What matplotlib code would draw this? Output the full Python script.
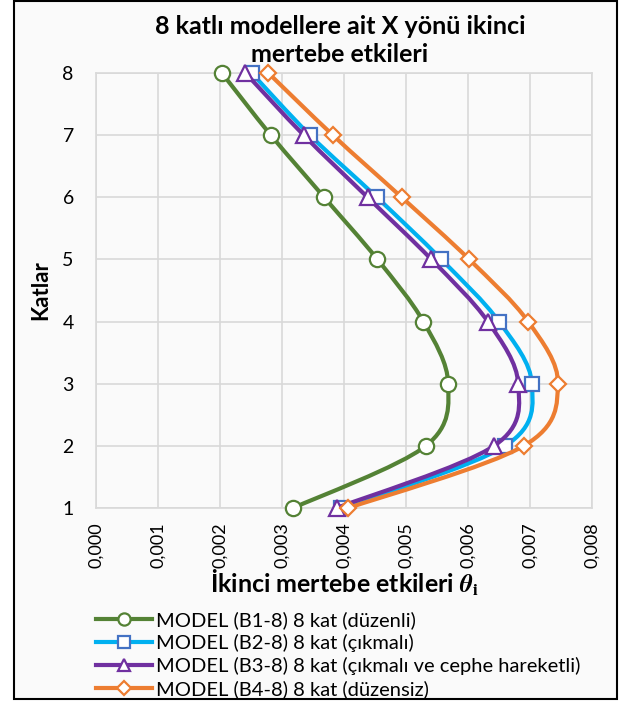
import matplotlib
matplotlib.use('Agg')
import matplotlib.pyplot as plt
from matplotlib.path import Path
from matplotlib.patches import PathPatch, Rectangle
from matplotlib.lines import Line2D

plt.rcParams['font.family'] = ['Lato', 'DejaVu Sans']
plt.rcParams['mathtext.fontset'] = 'stix'

# data
katlar = [1, 2, 3, 4, 5, 6, 7, 8]
b1 = [0.00318, 0.00532, 0.00568, 0.00528, 0.00454, 0.00368, 0.00282, 0.00203]
b2 = [0.00395, 0.00660, 0.00703, 0.00650, 0.00557, 0.00453, 0.00345, 0.00251]
b3 = [0.00388, 0.00642, 0.00681, 0.00632, 0.00541, 0.00438, 0.00335, 0.00241]
b4 = [0.00407, 0.00690, 0.00745, 0.00697, 0.00602, 0.00493, 0.00382, 0.00278]

labels = ['MODEL (B1-8) 8 kat (düzenli)',
          'MODEL (B2-8) 8 kat (çıkmalı)',
          'MODEL (B3-8) 8 kat (çıkmalı ve cephe hareketli)',
          'MODEL (B4-8) 8 kat (düzensiz)']
line_colors = ['#548235', '#00B0F0', '#7030A0', '#ED7D31']
edge_colors = ['#548235', '#4472C4', '#7030A0', '#ED7D31']
markers = ['o', 's', '^', 'D']
msizes = [11, 10, 11, 8.5]


def smooth_path(xs, ys):
    # Excel style smoothed line: cubic bezier through the points
    pts = list(zip(xs, ys))
    n = len(pts)
    verts = [pts[0]]
    codes = [Path.MOVETO]
    for i in range(n - 1):
        p0 = pts[max(i - 1, 0)]
        p1 = pts[i]
        p2 = pts[i + 1]
        p3 = pts[min(i + 2, n - 1)]
        c1 = (p1[0] + (p2[0] - p0[0]) / 6, p1[1] + (p2[1] - p0[1]) / 6)
        c2 = (p2[0] - (p3[0] - p1[0]) / 6, p2[1] - (p3[1] - p1[1]) / 6)
        verts += [c1, c2, p2]
        codes += [Path.CURVE4] * 3
    return Path(verts, codes)


fig = plt.figure(figsize=(6.2, 7.02), dpi=100)
fig.patch.set_facecolor('white')
fig.patches.append(Rectangle((14 / 620, 1 - 699 / 702), 603 / 620, 698 / 702,
                             transform=fig.transFigure, facecolor='#fafafa',
                             edgecolor='black', linewidth=1.5, zorder=-5))

ax = fig.add_axes([96 / 620, 1 - 508 / 702, 496 / 620, 435 / 702])
ax.set_facecolor('#fafafa')

for i, vals in enumerate([b1, b2, b3, b4]):
    patch = PathPatch(smooth_path(vals, katlar), facecolor='none',
                      edgecolor=line_colors[i], linewidth=3.0,
                      capstyle='round', joinstyle='round', zorder=3 + 2 * i)
    ax.add_patch(patch)
    ax.plot(vals, katlar, linestyle='none', marker=markers[i],
            markersize=msizes[i], markerfacecolor='white',
            markeredgecolor=edge_colors[i], markeredgewidth=1.6,
            zorder=4 + 2 * i, clip_on=False)

ax.set_xlim(0, 0.008)
ax.set_ylim(1, 8)
ax.set_xticks([i / 1000 for i in range(9)])
ax.set_xticklabels(['0,%03d' % i for i in range(9)], rotation=90, fontsize=13)
ax.set_yticks(katlar)
ax.set_yticklabels([str(k) for k in katlar], fontsize=14)
ax.tick_params(axis='x', length=0, pad=10)
ax.tick_params(axis='y', length=0, pad=16)
ax.grid(True, color='#d9d9d9', linewidth=1.2)
ax.set_axisbelow(True)
for s in ax.spines.values():
    s.set_color('#d9d9d9')
    s.set_linewidth(1.2)

ax.set_ylabel('Katlar', fontsize=16, fontweight='bold', labelpad=8)
ax.set_xlabel(r'İkinci mertebe etkileri $\boldsymbol{\theta}_{\mathbf{i}}$',
              fontsize=18, fontweight='bold', labelpad=0)

fig.text(340 / 620, 1 - 15 / 702, '8 katlı modellere ait X yönü ikinci\nmertebe etkileri',
         ha='center', va='top', fontsize=18, fontweight='bold', linespacing=1.25)

handles = [Line2D([], [], color=line_colors[i], linewidth=3.0, marker=markers[i],
                  markersize=msizes[i] * 0.8, markerfacecolor='white',
                  markeredgecolor=edge_colors[i], markeredgewidth=1.6)
           for i in range(4)]
fig.legend(handles, labels, loc='upper left', bbox_to_anchor=(88 / 620, 1 - 603 / 702),
           frameon=False, fontsize=14.5, handlelength=2.8, handletextpad=0.2,
           labelspacing=0.25, borderaxespad=0)

fig.savefig('out.png', dpi=100)
